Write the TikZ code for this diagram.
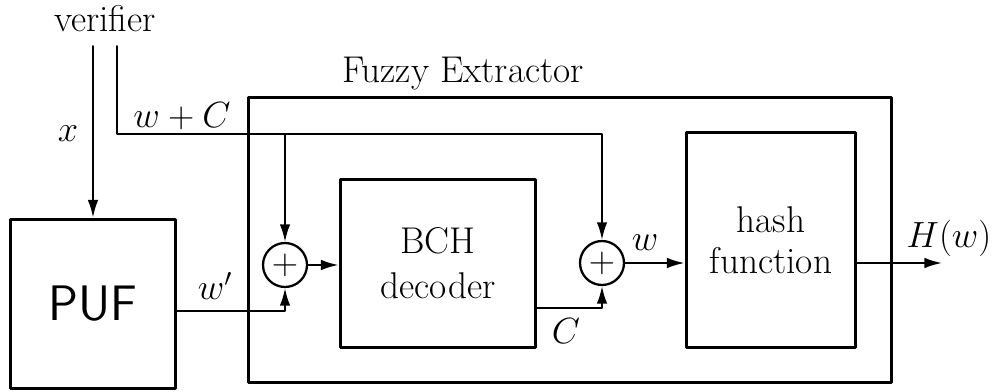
\documentclass[tikz,border=0pt]{standalone}
\usepackage{amsmath,amssymb}
\usetikzlibrary{arrows.meta,calc}

\tikzset{
  blk/.style={draw, rectangle, line width=1.7pt, inner sep=0pt, align=center},
  sumnode/.style={draw, circle, line width=1.3pt, minimum size=0.88cm, inner sep=0pt,
    font=\fontsize{22}{22}\selectfont},
  sig/.style={line width=1.1pt, -{Latex[length=10pt,width=6pt]}},
  lbl/.style={inner sep=0pt}
}

\begin{document}
\begin{tikzpicture}[x=0.02cm, y=-0.02cm, line cap=round, line join=round,
  font=\fontsize{21.2}{24}\selectfont]
\useasboundingbox (0,0) rectangle (994,392);

% blocks
\node[blk, minimum width=12.88cm, minimum height=5.72cm] (fe) at (570,240) {};
\node[blk, minimum width=3.32cm, minimum height=3.4cm,
  font=\fontsize{28.4}{30}\selectfont\sffamily] (puf) at (93,304) {PUF};
\node[blk, minimum width=3.92cm, minimum height=3.38cm,
  font=\fontsize{21.2}{25.5}\selectfont] (bch) at (438,263.5) {BCH\\decoder};
\node[blk, minimum width=3.4cm, minimum height=4.32cm,
  font=\fontsize{21.2}{23.5}\selectfont] (hash) at (771,240) {hash\\function};
\node[sumnode] (s1) at (285,265) {$+$};
\node[sumnode] (s2) at (602,263) {$+$};

% texts
\node[lbl] (ver) at (105,18.5) {verifier};
\node[lbl] (fel) at (463,74) {Fuzzy Extractor};
\node[lbl] (lx) at (68,134) {$x$};
\node[lbl] (lwc) at (182,116) {$w+C$};
\node[lbl] (lwp) at (215,286) {$w'$};
\node[lbl] (lc) at (566,331) {$C$};
\node[lbl] (lw) at (645,243) {$w$};
\node[lbl] (lh) at (949,238) {$H(w)$};

\coordinate (vx) at (93,46);
\coordinate (vc) at (117,46);
\coordinate (bend) at (117,134);
\coordinate (tee) at (s1 |- bend);
\coordinate (out) at (942,263);

% connectors
\draw[sig] (vx) -- (puf.north);
\draw[sig] (vc) -- (bend) -| (s2.north);
\draw[sig] (tee) -- (s1.north);
\draw[sig] ($(puf.east)+(0,7)$) -| (s1.south);
\draw[sig] (s1.east) -- (s1.east -| bch.west);
\draw[sig] ($(bch.east)+(0,44.5)$) -| (s2.south);
\draw[sig] (s2.east) -- (s2.east -| hash.west);
\draw[sig] (s2.east -| hash.east) -- (out);
\end{tikzpicture}
\end{document}
